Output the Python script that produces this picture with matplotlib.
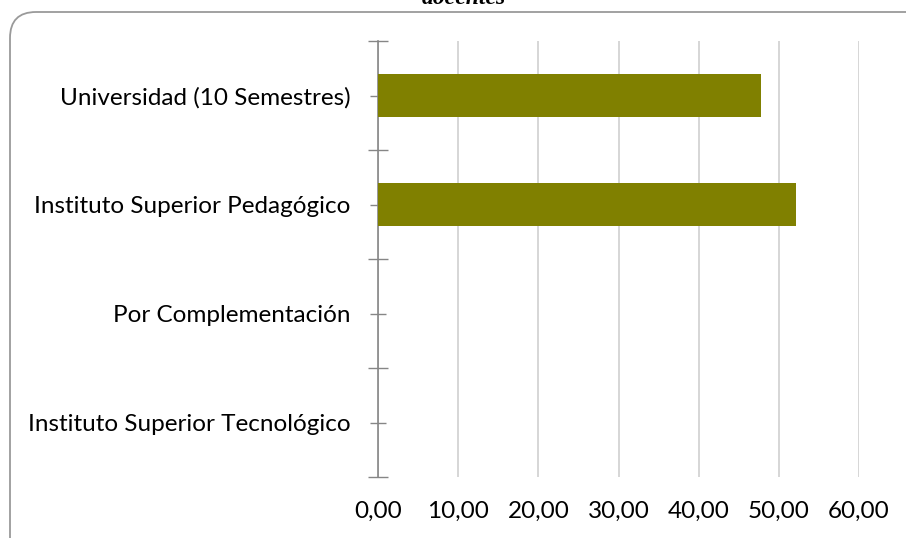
import matplotlib
matplotlib.use("Agg")
import matplotlib.pyplot as plt
from matplotlib.patches import FancyBboxPatch
import numpy as np

categories = ["Instituto Superior Tecnológico", "Por Complementación",
              "Instituto Superior Pedagógico", "Universidad (10 Semestres)"]
values = [0.0, 0.0, 52.17, 47.83]
xticks = [0, 10, 20, 30, 40, 50, 60]
xlabels = ["0,00", "10,00", "20,00", "30,00", "40,00", "50,00", "60,00"]

W, H = 906, 538
fig = plt.figure(figsize=(W / 100, H / 100), dpi=100)
fig.patch.set_facecolor("white")

# rounded border (top-left corner visible, extends beyond right/bottom)
bx0, by_top = 10, 12
box = FancyBboxPatch((bx0, -100), W + 100 - bx0, H - by_top + 100,
                     boxstyle="round,pad=0,rounding_size=26",
                     transform=None, facecolor="none", edgecolor="#9a9a9a",
                     linewidth=1.3, clip_on=False)
fig.patches.append(box)

fig.text(464 / W, 1 - 4 / H, "docentes", ha="center", va="baseline",
         family="Liberation Serif", fontweight="bold", fontstyle="italic", fontsize=17)

ax = fig.add_axes([378 / W, 1 - 477 / H, (859 - 378) / W, (477 - 41) / H])
y = np.arange(len(categories))
ax.barh(y, values, height=0.4, color="#808000", zorder=3)
ax.set_xlim(0, 60)
ax.set_ylim(-0.5, len(categories) - 0.5)

ax.set_xticks(xticks)
ax.set_xticklabels(xlabels, family="Lato", fontsize=17.5)
ax.tick_params(axis="x", length=0, pad=17)
ax.grid(axis="x", color="#d0d0d0", linewidth=1.2, zorder=0)

ax.set_yticks(np.arange(-0.5, len(categories), 1.0))
ax.set_yticklabels([])
ax.set_yticks(y, minor=True)
ax.set_yticklabels(categories, minor=True, family="Lato", fontsize=17.5)
ax.tick_params(axis="y", which="major", direction="inout", length=14, color="#868686", width=1)
ax.tick_params(axis="y", which="minor", direction="inout", length=12, color="#868686", width=1, pad=14)

for s in ["top", "right", "bottom"]:
    ax.spines[s].set_visible(False)
ax.spines["left"].set_color("#868686")
ax.spines["left"].set_linewidth(1.2)

fig.savefig("out.png", dpi=100, facecolor="white")
